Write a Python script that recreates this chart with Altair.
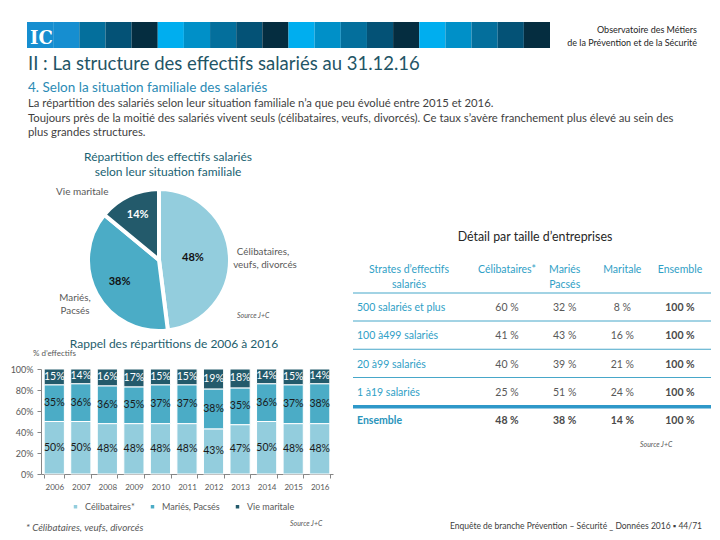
import altair as alt
import pandas as pd

W, H = 704, 524
FONT = "Lato"
OFF = 8  # page margin

# ---------------- data ----------------
years = ["2006", "2007", "2008", "2009", "2010", "2011", "2012", "2013", "2014", "2015", "2016"]
celib = [50, 50, 48, 48, 48, 48, 43, 47, 50, 48, 48]
maries = [35, 36, 36, 35, 37, 37, 38, 35, 36, 37, 38]
vie = [15, 14, 16, 17, 15, 15, 19, 18, 14, 15, 14]
series = ["Célibataires*", "Mariés, Pacsés", "Vie maritale"]
colors = ["#93cddd", "#4bacc6", "#235a6b"]

pie_names = ["Célibataires", "Mariés", "Vie maritale"]
pie_values = [48, 38, 14]

table_rows = ["500 salariés et plus", "100 à499 salariés", "20 à99 salariés", "1 à19 salariés", "Ensemble"]
table_cols = ["Célibataires*", "Mariés Pacsés", "Maritale", "Ensemble"]
table_heads = ["Célibataires*", "Mariés\nPacsés", "Maritale", "Ensemble"]
t_celib = [60, 41, 40, 25, 48]
t_maries = [32, 43, 39, 51, 38]
t_marit = [8, 16, 21, 24, 14]
t_ens = [100, 100, 100, 100, 100]

header_colors = ["#168ed0", "#168ed0", "#046f9c", "#045276", "#052d40",
                 "#00aeef", "#0090c8", "#046f9c", "#045276", "#052d40",
                 "#00aeef", "#0090c8", "#046f9c", "#045276", "#052d40",
                 "#00aeef", "#0090c8", "#046f9c", "#045276", "#052d40"]


def txt(s, x, y, size=10, color="#404040", align="left", weight="normal",
        style="normal", font=FONT, lh=None):
    kw = dict(align=align, baseline="middle", fontSize=size, color=color, font=font,
              fontWeight=weight, fontStyle=style, lineBreak="\n")
    if lh:
        kw["lineHeight"] = lh
    return alt.Chart(pd.DataFrame({"t": [s]})).mark_text(**kw).encode(
        x=alt.value(x - OFF), y=alt.value(y - OFF), text="t:N")


# ---------------- header band ----------------
hdr = pd.DataFrame({"i": list(range(len(header_colors))), "c": header_colors})
header = alt.Chart(hdr).mark_rect().encode(
    x=alt.X("i:O", scale=alt.Scale(range=[27 - OFF, 550 - OFF], paddingInner=0, paddingOuter=0), axis=None),
    y=alt.value(22 - OFF), y2=alt.value(48 - OFF),
    color=alt.Color("c:N", scale=None, legend=None),
)

texts = [
    txt("IC", 30, 39, size=18, color="white", weight="bold", font="DejaVu Serif"),
    txt("Observatoire des Métiers", 697, 30, size=9, color="#262626", align="right"),
    txt("de la Prévention et de la Sécurité", 697, 43, size=9, color="#262626", align="right"),
    txt("II : La structure des effectifs salariés au 31.12.16", 28, 64, size=18.5, color="#1f5566"),
    txt("4. Selon la situation familiale des salariés", 28, 88, size=13.5, color="#2b8bb5"),
    txt("La répartition des salariés selon leur situation familiale n’a que peu évolué entre 2015 et 2016.", 28, 104, size=11.3, color="#3f3f3f"),
    txt("Toujours près de la moitié des salariés vivent seuls (célibataires, veufs, divorcés). Ce taux s’avère franchement plus élevé au sein des", 28, 119, size=11.3, color="#3f3f3f"),
    txt("plus grandes structures.", 28, 133, size=11.3, color="#3f3f3f"),
    txt("Répartition des effectifs salariés", 168, 157, size=12, color="#1a6272", align="center"),
    txt("selon leur situation familiale", 168, 172, size=12, color="#1a6272", align="center"),
    txt("Vie maritale", 56, 192, size=10, color="#595959"),
    txt("Célibataires,", 263, 252, size=9.8, color="#595959", align="center"),
    txt("veufs, divorcés", 265, 265, size=9.8, color="#595959", align="center"),
    txt("Mariés,", 75, 298, size=9.8, color="#595959", align="center"),
    txt("Pacsés", 75, 311, size=9.8, color="#595959", align="center"),
    txt("Source J+C", 237, 316, size=7, color="#595959", style="italic"),
    txt("Rappel des répartitions de 2006 à 2016", 174, 344, size=12, color="#1e5d6c", align="center"),
    txt("% d’effectifs", 33, 354, size=8, color="#595959"),
    txt("* Célibataires, veufs, divorcés", 26, 528, size=9.8, color="#595959", style="italic"),
    txt("Source J+C", 290, 524, size=7, color="#595959", style="italic"),
    txt("Détail par taille d’entreprises", 535, 237, size=12.4, color="#262626", align="center"),
    txt("Strates d’effectifs\nsalariés", 409, 270, size=10.5, color="#2fa0c6", align="center", lh=15),
    txt("Source J+C", 640, 445, size=7, color="#595959", style="italic"),
    txt("Enquête de branche Prévention – Sécurité _ Données 2016  ▪  44/71", 702, 526, size=8.5, color="#404040", align="right"),
]

# ---------------- pie ----------------
pie_df = pd.DataFrame({"s": pie_names, "v": pie_values, "o": [0, 1, 2],
                       "lbl": [f"{v}%" for v in pie_values]})
pie_base = alt.Chart(pie_df).encode(theta=alt.Theta("v:Q", stack=True), order=alt.Order("o:Q"))
pcx, pcy = 159 - OFF, 260 - OFF
pie_arcs = pie_base.mark_arc(radius=71, stroke="white", strokeWidth=4, x=pcx, y=pcy).encode(
    color=alt.Color("s:N", scale=alt.Scale(domain=pie_names, range=colors), legend=None)
)


def pie_label(name, r, color):
    return pie_base.mark_text(radius=r, x=pcx, y=pcy, fontSize=11, fontWeight="bold",
                              font=FONT, color=color).encode(
        text=alt.condition(f"datum.s == '{name}'", "lbl:N", alt.value(""))
    )


pie = alt.layer(pie_arcs,
                pie_label("Célibataires", 34, "#111111"),
                pie_label("Mariés", 45, "#111111"),
                pie_label("Vie maritale", 50, "white"))

# ---------------- stacked bars ----------------
rows = []
for i, yr in enumerate(years):
    for k, (s, vals) in enumerate(zip(series, [celib, maries, vie])):
        rows.append({"year": yr, "s": s, "v": vals[i], "o": k})
bar_df = pd.DataFrame(rows)

bar_base = alt.Chart(bar_df).transform_stack(
    stack="v", groupby=["year"], sort=[alt.SortField("o")], as_=["v0", "v1"]
).transform_calculate(mid="(datum.v0 + datum.v1) / 2", lbl="datum.v + '%'")

xaxis = alt.Axis(orient="bottom", offset=(474 - OFF) - H, title=None, tickBand="extent",
                 domainColor="#868686", tickColor="#868686", tickSize=4, labelPadding=5,
                 labelColor="#595959", labelFontSize=8, labelFont=FONT, labelAngle=0)
yaxis = alt.Axis(orient="left", offset=-(41 - OFF), title=None, grid=False,
                 values=[0, 20, 40, 60, 80, 100], labelExpr="datum.value + '%'",
                 domainColor="#868686", tickColor="#868686", tickSize=4, labelPadding=4,
                 labelColor="#595959", labelFontSize=9, labelFont=FONT)
xs = alt.Scale(range=[41 - OFF, 333 - OFF], paddingInner=0.24, paddingOuter=0.12)
ys = alt.Scale(domain=[0, 100], range=[474 - OFF, 369 - OFF])

bars = bar_base.mark_bar(stroke="white", strokeWidth=1).encode(
    x=alt.X("year:O", scale=xs, axis=xaxis),
    y=alt.Y("v0:Q", scale=ys, axis=yaxis),
    y2="v1:Q",
    color=alt.Color("s:N", scale=alt.Scale(domain=series, range=colors),
                    legend=alt.Legend(orient="none", legendX=63, legendY=494, direction="horizontal",
                                      title=None, symbolType="square", symbolSize=12,
                                      symbolStrokeWidth=0, labelFontSize=9, labelColor="#595959",
                                      labelFont=FONT, columnPadding=13, labelOffset=5)),
    order=alt.Order("o:Q"),
)
bar_labels = bar_base.mark_text(fontSize=10.5, font=FONT, baseline="middle").encode(
    x=alt.X("year:O", scale=xs, axis=xaxis),
    y=alt.Y("mid:Q", scale=ys, axis=yaxis),
    text="lbl:N",
    color=alt.condition("datum.s == 'Vie maritale'", alt.value("white"), alt.value("#1a1a1a")),
)
barc = alt.layer(bars, bar_labels)

# ---------------- table ----------------
cells = []
for r, row in enumerate(table_rows):
    for c, (col, vals) in enumerate(zip(table_cols, [t_celib, t_maries, t_marit, t_ens])):
        cells.append({"row": row, "col": col, "v": f"{vals[r]} %"})
cell_df = pd.DataFrame(cells)

cx = alt.Scale(type="point", domain=table_cols, range=[507 - OFF, 680 - OFF], padding=0)
ry = alt.Scale(type="point", domain=table_rows, range=[308 - OFF, 421 - OFF], padding=0)

cells_norm = alt.Chart(cell_df).transform_filter(
    "datum.col != 'Ensemble' && datum.row != 'Ensemble'"
).mark_text(fontSize=10.5, font=FONT, color="#595959").encode(
    x=alt.X("col:N", scale=cx, axis=None), y=alt.Y("row:N", scale=ry, axis=None), text="v:N")
cells_bold = alt.Chart(cell_df).transform_filter(
    "datum.col == 'Ensemble' || datum.row == 'Ensemble'"
).mark_text(fontSize=10.5, font=FONT, color="#4a4a4a", fontWeight="bold").encode(
    x=alt.X("col:N", scale=cx, axis=None), y=alt.Y("row:N", scale=ry, axis=None), text="v:N")

row_df = pd.DataFrame({"row": table_rows})
rowlab_norm = alt.Chart(row_df).transform_filter("datum.row != 'Ensemble'").mark_text(
    fontSize=10.5, font=FONT, color="#2fa0c6", align="left").encode(
    x=alt.value(357 - OFF), y=alt.Y("row:N", scale=ry, axis=None), text="row:N")
rowlab_bold = alt.Chart(row_df).transform_filter("datum.row == 'Ensemble'").mark_text(
    fontSize=10.5, font=FONT, color="#2a94bb", align="left", fontWeight="bold").encode(
    x=alt.value(357 - OFF), y=alt.Y("row:N", scale=ry, axis=None), text="row:N")

head_df = pd.DataFrame({"col": table_cols, "h": table_heads})
col_heads = alt.Chart(head_df).mark_text(
    fontSize=10.5, font=FONT, color="#2fa0c6", lineBreak="\n", lineHeight=15).encode(
    x=alt.X("col:N", scale=cx, axis=None), y=alt.value(270 - OFF), text="h:N")

thin_df = pd.DataFrame({"row": table_rows[:3]})
lines_thin = alt.Chart(thin_df).mark_rule(color="#47a7c9", strokeWidth=1).encode(
    y=alt.Y("row:N", scale=ry, axis=None), yOffset=alt.value(13),
    x=alt.value(353 - OFF), x2=alt.value(711 - OFF))
thick_df = pd.DataFrame({"row": table_rows[3:4]})
lines_thick = alt.Chart(thick_df).mark_rule(color="#2e98c9", strokeWidth=3.5).encode(
    y=alt.Y("row:N", scale=ry, axis=None), yOffset=alt.value(14),
    x=alt.value(353 - OFF), x2=alt.value(711 - OFF))
top_df = pd.DataFrame({"row": table_rows[:1]})
line_top = alt.Chart(top_df).mark_rule(color="#47a7c9", strokeWidth=1.2).encode(
    y=alt.Y("row:N", scale=ry, axis=None), yOffset=alt.value(-15),
    x=alt.value(353 - OFF), x2=alt.value(711 - OFF))

table = alt.layer(lines_thin, lines_thick, line_top, cells_norm, cells_bold,
                  rowlab_norm, rowlab_bold, col_heads)

chart = alt.layer(header, *texts, pie, barc, table).resolve_scale(
    x="independent", y="independent", color="independent", theta="independent"
).properties(
    width=W, height=H, autosize=alt.AutoSizeParams(type="none"), padding=0,
    background="white"
).configure_view(stroke=None)

chart.save("out.html", embed_options={"renderer": "svg", "actions": False})
